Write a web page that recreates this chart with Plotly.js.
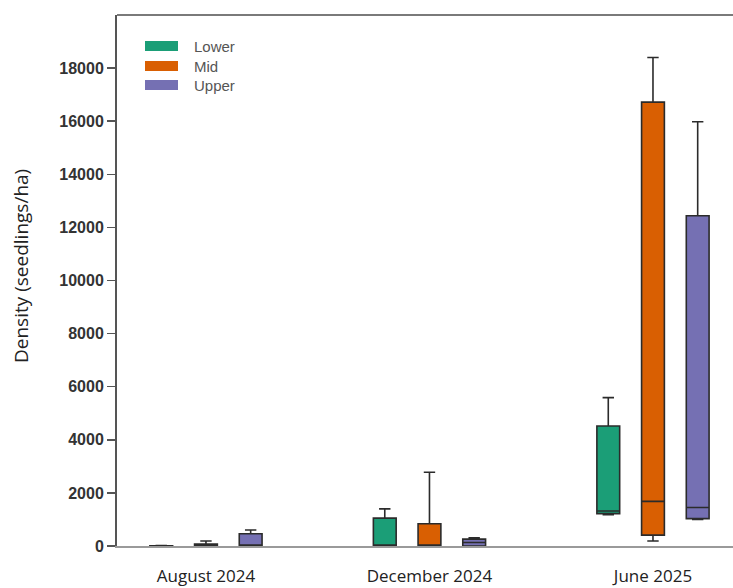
<!DOCTYPE html>
<html>
<head>
<meta charset="utf-8">
<script src="https://cdn.plot.ly/plotly-3.0.1.min.js"></script>
<style>html,body{margin:0;padding:0;background:#fff;}#chart{width:733px;height:588px;}</style>
</head>
<body>
<div id="chart"></div>
<script>
// Categories (sampling dates)
var dates = ["August 2024", "December 2024", "June 2025"];
var zones = ["Lower", "Mid", "Upper"];
var colors = ["#1b9e77", "#d95f02", "#7570b3"];

// Box statistics per zone (seedlings/ha), one value per date
var lowerMin = [0, 0, 1180];
var lowerQ1 = [0, 0, 1220];
var lowerMed = [0, 0, 1320];
var lowerQ3 = [12, 1050, 4520];
var lowerMax = [15, 1400, 5590];

var midMin = [0, 0, 190];
var midQ1 = [0, 0, 410];
var midMed = [20, 0, 1680];
var midQ3 = [70, 840, 16720];
var midMax = [190, 2780, 18400];

var upperMin = [0, 0, 1000];
var upperQ1 = [0, 0, 1030];
var upperMed = [0, 130, 1450];
var upperQ3 = [460, 260, 12440];
var upperMax = [600, 310, 15980];

var yTicks = [0, 2000, 4000, 6000, 8000, 10000, 12000, 14000, 16000, 18000];

var stats = [
  [lowerMin, lowerQ1, lowerMed, lowerQ3, lowerMax],
  [midMin, midQ1, midMed, midQ3, midMax],
  [upperMin, upperQ1, upperMed, upperQ3, upperMax]
];

var traces = zones.map(function (z, i) {
  var s = stats[i];
  return {
    type: "box",
    name: z,
    x: dates,
    lowerfence: s[0],
    q1: s[1],
    median: s[2],
    q3: s[3],
    upperfence: s[4],
    fillcolor: colors[i],
    line: {color: "#2b2b2b", width: 1.6},
    whiskerwidth: 0.5,
    boxpoints: false,
    hoverinfo: "y",
    showlegend: false
  };
});

var W = 733, H = 588, mL = 117, mT = 15, mB = 42, mR = 0;
var pw = W - mL - mR, ph = H - mT - mB;
function px(x) { return (x - mL) / pw; }
function py(y) { return (H - mB - y) / ph; }

var shapes = [
  {type: "line", xref: "paper", yref: "paper", x0: 0, x1: 1, y0: 1, y1: 1,
   line: {color: "#7a7a7a", width: 2}}
];
var annotations = [
  {xref: "paper", yref: "paper", x: px(21), y: py(266), text: "Density (seedlings/ha)",
   textangle: -90, showarrow: false, xanchor: "center", yanchor: "middle",
   font: {family: "Open Sans, sans-serif", size: 19, color: "#222"}}
];
var legY = [46, 66, 85];
zones.forEach(function (z, i) {
  shapes.push({type: "rect", xref: "paper", yref: "paper",
    x0: px(145), x1: px(178), y0: py(legY[i] - 5), y1: py(legY[i] + 5),
    fillcolor: colors[i], line: {width: 0}});
  annotations.push({xref: "paper", yref: "paper", x: px(192), y: py(legY[i]),
    text: z, showarrow: false, xanchor: "left", yanchor: "middle",
    font: {family: "Liberation Sans, Arial, sans-serif", size: 15, color: "#555"}});
});

var layout = {
  width: W, height: H,
  margin: {l: mL, r: mR, t: mT, b: mB, pad: 0},
  paper_bgcolor: "#fff", plot_bgcolor: "#fff",
  boxmode: "group",
  boxgap: 0.4,
  boxgroupgap: 0.49,
  showlegend: false,
  xaxis: {
    type: "category",
    categoryorder: "array",
    categoryarray: dates,
    range: [-0.398, 2.358],
    showgrid: false, zeroline: false,
    showline: true, linecolor: "#9a9a9a", linewidth: 2,
    ticks: "", ticklabelstandoff: 14,
    tickfont: {family: "Open Sans, sans-serif", size: 17, color: "#222"},
    fixedrange: true
  },
  yaxis: {
    range: [0, 20000],
    tickvals: yTicks,
    ticktext: yTicks.map(String),
    showgrid: false, zeroline: false,
    showline: true, linecolor: "#555", linewidth: 2,
    ticks: "outside", ticklen: 8, tickwidth: 1.5, tickcolor: "#555",
    tickfont: {family: "Liberation Sans, Arial, sans-serif", size: 16, color: "#333", weight: "bold"},
    fixedrange: true
  },
  shapes: shapes,
  annotations: annotations
};

Plotly.newPlot("chart", traces, layout, {displayModeBar: false, staticPlot: true});
</script>
</body>
</html>
